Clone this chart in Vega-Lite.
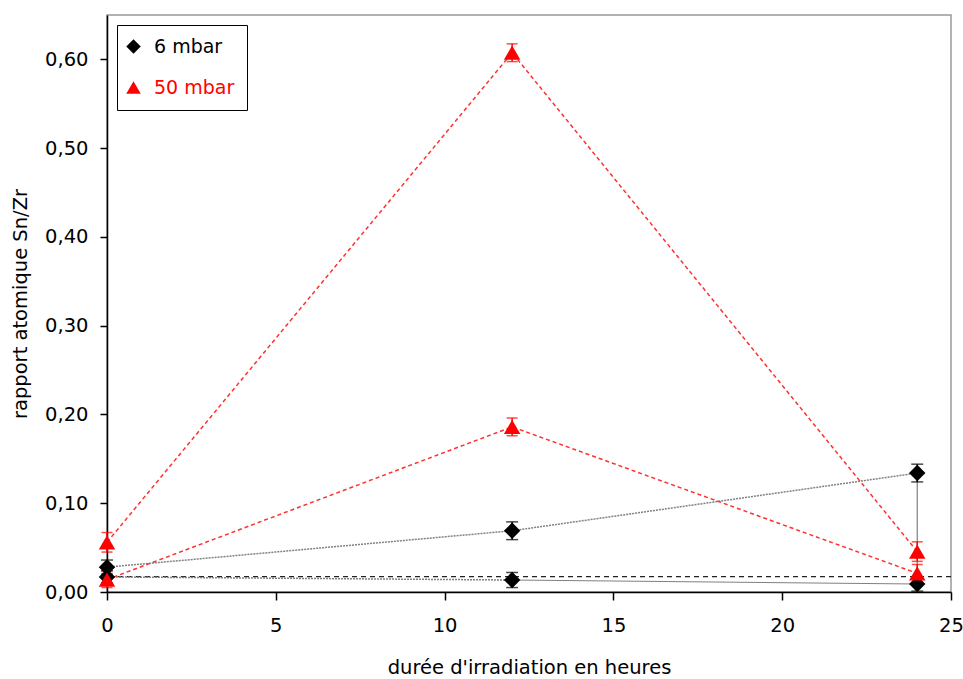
{
  "$schema": "https://vega.github.io/schema/vega-lite/v6.json",
  "width": 844,
  "height": 577,
  "autosize": "none",
  "padding": {"left": 107, "top": 15, "right": 12, "bottom": 87},
  "config": {
    "font": "DejaVu Sans",
    "view": {"stroke": "#999999", "strokeWidth": 1.5},
    "axis": {
      "grid": false,
      "domainColor": "black",
      "tickColor": "black",
      "labelColor": "black",
      "titleColor": "black",
      "labelFontSize": 19.5,
      "titleFontSize": 19.5,
      "titleFontWeight": "normal",
      "domainWidth": 1.5,
      "tickWidth": 1.5,
      "labelFlush": false
    }
  },
  "datasets": {
    "pts": [
      {"series": "6 mbar", "line": "A", "x": 0, "y": 0.028, "lo": 0.020, "hi": 0.036},
      {"series": "6 mbar", "line": "A", "x": 12, "y": 0.069, "lo": 0.059, "hi": 0.079},
      {"series": "6 mbar", "line": "A", "x": 24, "y": 0.134, "lo": 0.124, "hi": 0.144},
      {"series": "6 mbar", "line": "B", "x": 0, "y": 0.017, "lo": 0.010, "hi": 0.024},
      {"series": "6 mbar", "line": "B", "x": 12, "y": 0.0135, "lo": 0.005, "hi": 0.022},
      {"series": "6 mbar", "line": "B", "x": 24, "y": 0.009, "lo": 0.001, "hi": 0.017},
      {"series": "50 mbar", "line": "C", "x": 0, "y": 0.056, "lo": 0.045, "hi": 0.067},
      {"series": "50 mbar", "line": "C", "x": 12, "y": 0.6075, "lo": 0.5975, "hi": 0.6175},
      {"series": "50 mbar", "line": "C", "x": 24, "y": 0.0455, "lo": 0.0345, "hi": 0.0565},
      {"series": "50 mbar", "line": "D", "x": 0, "y": 0.014, "lo": 0.005, "hi": 0.023},
      {"series": "50 mbar", "line": "D", "x": 12, "y": 0.186, "lo": 0.176, "hi": 0.196},
      {"series": "50 mbar", "line": "D", "x": 24, "y": 0.021, "lo": 0.011, "hi": 0.031}
    ],
    "dotted": [
      {"path": "A", "x": 0, "y": 0.028},
      {"path": "A", "x": 12, "y": 0.069},
      {"path": "A", "x": 24, "y": 0.134},
      {"path": "B", "x": 0, "y": 0.017},
      {"path": "B", "x": 12, "y": 0.0135}
    ],
    "solid": [
      {"ord": 1, "x": 12, "y": 0.0135},
      {"ord": 2, "x": 24, "y": 0.009},
      {"ord": 3, "x": 24, "y": 0.134}
    ],
    "hline": [{"y": 0.0173}]
  },
  "layer": [
    {
      "data": {"name": "hline"},
      "mark": {"type": "rule", "color": "#222222", "strokeWidth": 1.2, "strokeDash": [5, 4]},
      "encoding": {
        "y": {"field": "y", "type": "quantitative", "title": "rapport atomique Sn/Zr"}
      }
    },
    {
      "data": {"name": "dotted"},
      "mark": {"type": "line", "color": "#808080", "strokeWidth": 1.5, "strokeDash": [2, 1]},
      "encoding": {
        "x": {"field": "x", "type": "quantitative", "scale": {"domain": [0, 25], "nice": false},
          "title": "durée d'irradiation en heures",
          "axis": {"values": [0, 5, 10, 15, 20, 25], "tickSize": 8, "labelPadding": 16, "titlePadding": 24}},
        "y": {"field": "y", "type": "quantitative", "scale": {"domain": [0, 0.65], "nice": false},
          "title": "rapport atomique Sn/Zr",
          "axis": {"values": [0, 0.1, 0.2, 0.3, 0.4, 0.5, 0.6], "tickSize": 7, "labelPadding": 12, "titlePadding": 14,
            "labelExpr": "replace(format(datum.value, '.2f'), '.', ',')"}},
        "detail": {"field": "path"}
      }
    },
    {
      "data": {"name": "solid"},
      "mark": {"type": "line", "color": "#808080", "strokeWidth": 1.2},
      "encoding": {
        "x": {"field": "x", "type": "quantitative", "title": "durée d'irradiation en heures"},
        "y": {"field": "y", "type": "quantitative", "title": "rapport atomique Sn/Zr"},
        "order": {"field": "ord"}
      }
    },
    {
      "data": {"name": "pts"},
      "transform": [{"filter": "datum.series == '50 mbar'"}],
      "mark": {"type": "line", "color": "#ff3030", "strokeWidth": 1.5, "strokeDash": [4, 3]},
      "encoding": {
        "x": {"field": "x", "type": "quantitative", "title": "durée d'irradiation en heures"},
        "y": {"field": "y", "type": "quantitative", "title": "rapport atomique Sn/Zr"},
        "detail": {"field": "line"}
      }
    },
    {
      "data": {"name": "pts"},
      "transform": [{"filter": "datum.series == '6 mbar'"}],
      "mark": {"type": "errorbar", "color": "black", "ticks": {"size": 12, "thickness": 1.5}, "rule": {"strokeWidth": 1.5}},
      "encoding": {
        "x": {"field": "x", "type": "quantitative", "title": "durée d'irradiation en heures"},
        "y": {"field": "lo", "type": "quantitative", "title": "rapport atomique Sn/Zr"},
        "y2": {"field": "hi"}
      }
    },
    {
      "data": {"name": "pts"},
      "transform": [{"filter": "datum.series == '50 mbar'"}],
      "mark": {"type": "errorbar", "color": "#ff0000", "ticks": {"size": 11, "thickness": 1.5}, "rule": {"strokeWidth": 1.5}},
      "encoding": {
        "x": {"field": "x", "type": "quantitative", "title": "durée d'irradiation en heures"},
        "y": {"field": "lo", "type": "quantitative", "title": "rapport atomique Sn/Zr"},
        "y2": {"field": "hi"}
      }
    },
    {
      "data": {"name": "pts"},
      "mark": {"type": "point", "filled": true, "opacity": 1, "size": 270},
      "encoding": {
        "x": {"field": "x", "type": "quantitative", "title": "durée d'irradiation en heures"},
        "y": {"field": "y", "type": "quantitative", "title": "rapport atomique Sn/Zr"},
        "color": {"field": "series", "type": "nominal",
          "scale": {"domain": ["6 mbar", "50 mbar"], "range": ["#000000", "#ff0000"]},
          "legend": {"title": null, "orient": "top-left", "offset": 10, "strokeColor": "black", "fillColor": "white",
            "padding": 12, "rowPadding": 21, "labelFontSize": 19, "symbolSize": 210, "symbolOffset": -5, "labelOffset": 11,
            "symbolStrokeWidth": 0,
            "labelColor": {"expr": "datum.value == '50 mbar' ? '#ff0000' : '#000000'"}}},
        "shape": {"field": "series", "type": "nominal",
          "scale": {"domain": ["6 mbar", "50 mbar"], "range": ["diamond", "triangle-up"]}}
      }
    }
  ]
}
